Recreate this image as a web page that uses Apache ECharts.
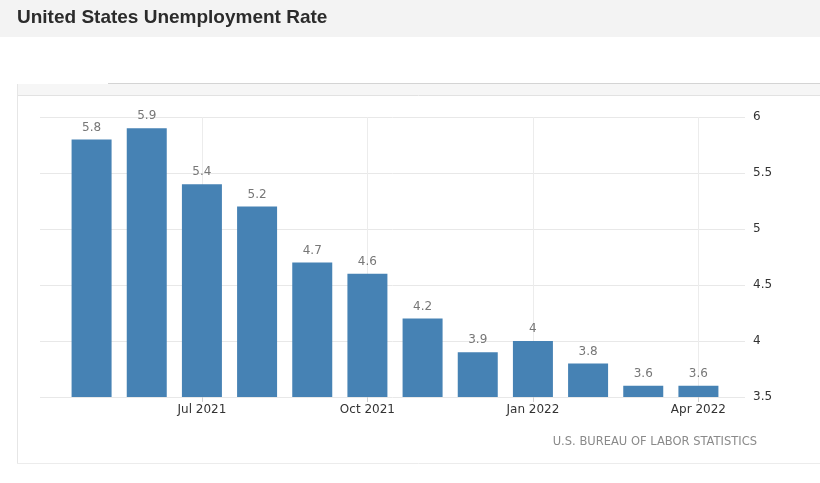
<!DOCTYPE html>
<html>
<head>
<meta charset="utf-8">
<script src="https://cdn.jsdelivr.net/npm/echarts@6/dist/echarts.min.js"></script>
<style>
html,body{margin:0;padding:0;background:#fff;}
#chart{width:820px;height:483px;}
</style>
</head>
<body>
<div id="chart"></div>
<script>
const titleText = 'United States Unemployment Rate';
const sourceText = 'U.S. BUREAU OF LABOR STATISTICS';
const categories = ['May 2021','Jun 2021','Jul 2021','Aug 2021','Sep 2021','Oct 2021','Nov 2021','Dec 2021','Jan 2022','Feb 2022','Mar 2022','Apr 2022'];
const rates = [5.8, 5.9, 5.4, 5.2, 4.7, 4.6, 4.2, 3.9, 4.0, 3.8, 3.6, 3.6];
const labelledMonths = ['Jul 2021','Oct 2021','Jan 2022','Apr 2022'];
const yMin = 3.5, yMax = 6, yStep = 0.5;

const font = '"DejaVu Sans", Verdana, sans-serif';
const showIdx = (i, v) => labelledMonths.indexOf(v) >= 0;

const chart = echarts.init(document.getElementById('chart'), null, {renderer: 'canvas'});
chart.setOption({
  animation: false,
  backgroundColor: '#fff',
  graphic: [
    {type: 'rect', shape: {x: 0, y: 0, width: 820, height: 37}, style: {fill: '#f3f3f3'}, z: -10},
    {type: 'text', left: 17, top: 8, style: {text: titleText, font: 'bold 19px "Liberation Sans", Arial, sans-serif', fill: '#2b2b2b'}},
    {type: 'rect', shape: {x: 18, y: 84, width: 802, height: 11}, style: {fill: '#f6f6f6'}, z: -10},
    {type: 'line', shape: {x1: 108, y1: 83.5, x2: 820, y2: 83.5}, style: {stroke: '#d4d4d4', lineWidth: 1}},
    {type: 'line', shape: {x1: 17, y1: 95.5, x2: 820, y2: 95.5}, style: {stroke: '#e2e2e2', lineWidth: 1}},
    {type: 'line', shape: {x1: 17.5, y1: 84, x2: 17.5, y2: 463}, style: {stroke: '#e6e6e6', lineWidth: 1}},
    {type: 'line', shape: {x1: 17, y1: 463.5, x2: 820, y2: 463.5}, style: {stroke: '#ececec', lineWidth: 1}},
    {type: 'text', right: 63, top: 436, style: {text: sourceText, font: '11.5px ' + font, fill: '#8a8a8a', align: 'right'}}
  ],
  grid: [
    {left: 40, right: 75, top: 117, bottom: 86},
    {left: 64, right: 94, top: 117, bottom: 86}
  ],
  xAxis: [
    {type: 'value', gridIndex: 0, show: false, min: 0, max: 1},
    {
      type: 'category', gridIndex: 1, data: categories,
      axisLine: {show: false},
      axisTick: {show: true, alignWithLabel: true, interval: showIdx, length: 5, lineStyle: {color: '#d0d0d0'}},
      axisLabel: {interval: showIdx, margin: 7, color: '#333', fontSize: 12, fontFamily: font},
      splitLine: {show: false}
    }
  ],
  yAxis: [
    {
      type: 'value', gridIndex: 0, position: 'right', min: yMin, max: yMax, interval: yStep,
      axisLine: {show: false}, axisTick: {show: false},
      axisLabel: {margin: 8, color: '#333', fontSize: 12, fontFamily: font},
      splitLine: {show: true, lineStyle: {color: '#e8e8e8', width: 1}}
    },
    {type: 'value', gridIndex: 1, min: yMin, max: yMax, interval: yStep, show: false, splitLine: {show: false}}
  ],
  series: [
    {
      type: 'line', xAxisIndex: 1, yAxisIndex: 1, data: [], z: 0, silent: true,
      markLine: {
        z: 0, silent: true, symbol: 'none', label: {show: false},
        lineStyle: {color: '#ececec', type: 'solid', width: 1},
        data: labelledMonths.map(m => ({xAxis: m}))
      }
    },
    {
      type: 'bar', xAxisIndex: 1, yAxisIndex: 1, data: rates, barWidth: 40, z: 3,
      itemStyle: {color: '#4682b4'},
      label: {show: true, position: 'top', distance: 6, color: '#777', fontSize: 12, fontFamily: font}
    }
  ]
});
</script>
</body>
</html>
